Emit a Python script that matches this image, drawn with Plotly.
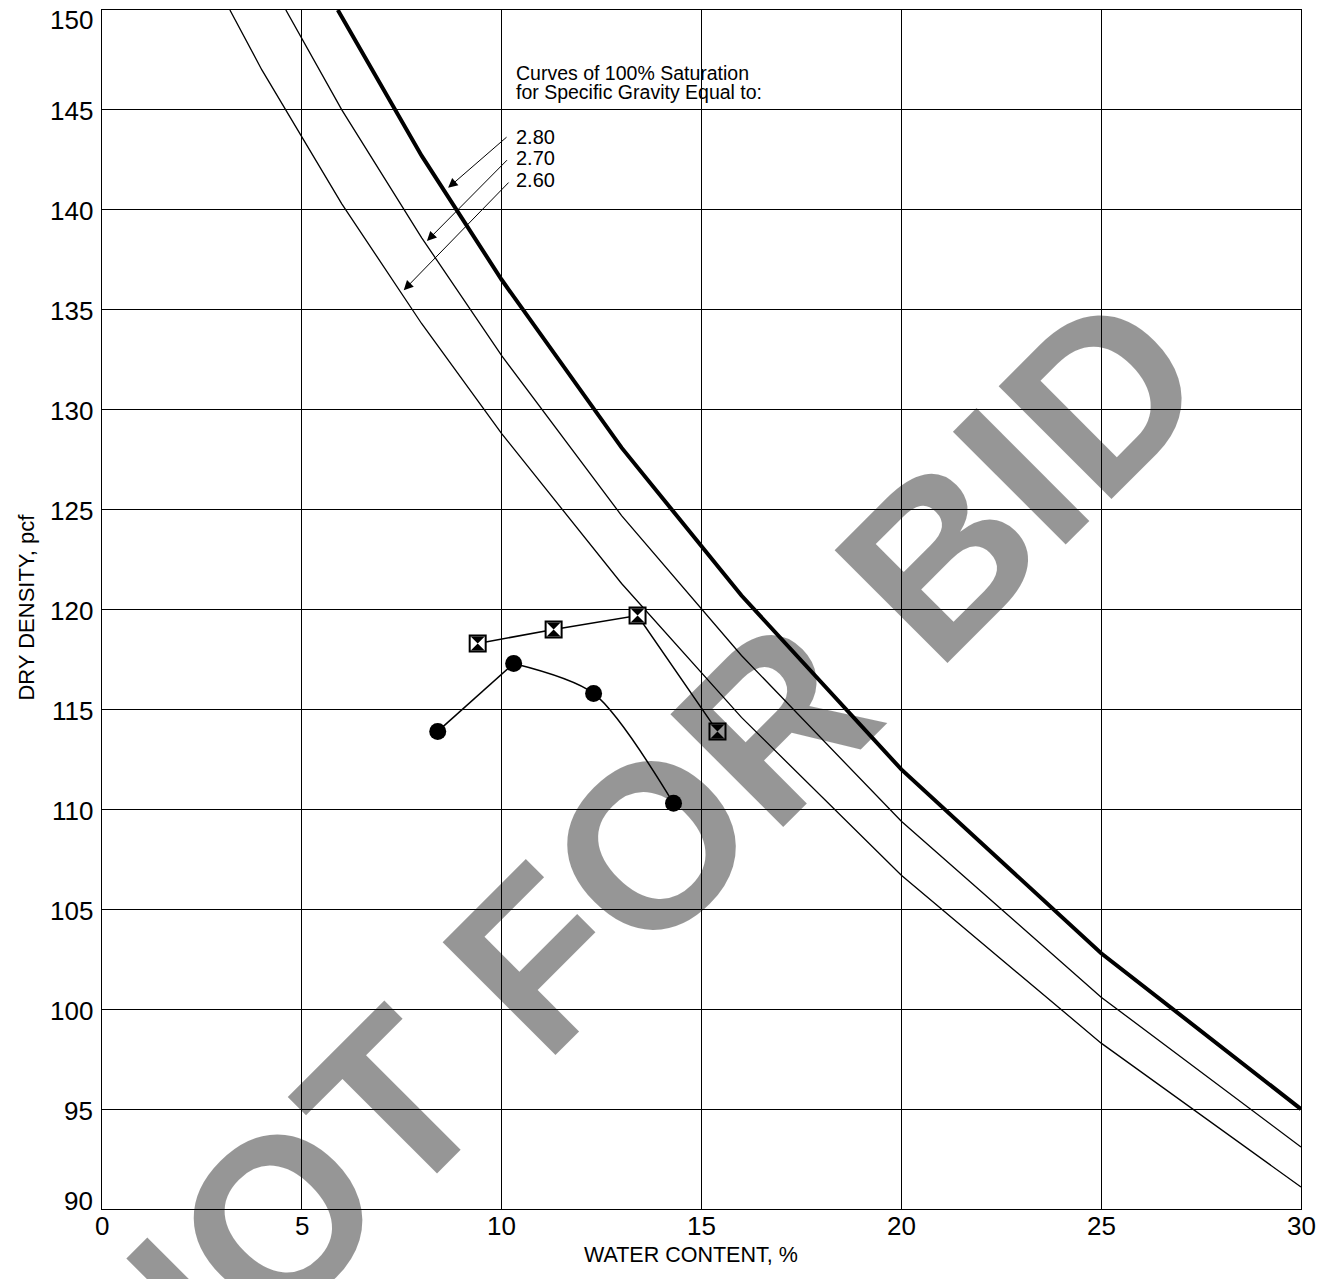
import plotly.graph_objects as go

# saturation curves
w_280 = [5.9, 8, 10, 13, 16, 20, 25, 30]
d_280 = [150.0, 142.7, 136.5, 128.1, 120.7, 112.0, 102.8, 95.0]
w_270 = [4.6, 6, 8, 10, 13, 16, 20, 25, 30]
d_270 = [150.0, 145.0, 138.6, 132.7, 124.7, 117.7, 109.4, 100.6, 93.1]
w_260 = [3.2, 4, 6, 8, 10, 13, 16, 20, 25, 30]
d_260 = [150.0, 147.0, 140.3, 134.3, 128.8, 121.3, 114.6, 106.7, 98.3, 91.1]

# compaction tests
circ_w = [8.4, 10.3, 12.3, 14.3]
circ_d = [113.9, 117.3, 115.8, 110.3]
sq_w = [9.4, 11.3, 13.4, 15.4]
sq_d = [118.3, 119.0, 119.7, 113.9]

gs_labels = ["2.80", "2.70", "2.60"]
label_y = [143.64, 142.58, 141.48]
arrow_tail = [(10.16, 143.7), (10.17, 142.56), (10.21, 141.44)]
arrow_head = [(8.66, 141.1), (8.13, 138.44), (7.55, 135.98)]

x_ticks = [0, 5, 10, 15, 20, 25, 30]
y_ticks = [90, 95, 100, 105, 110, 115, 120, 125, 130, 135, 140, 145, 150]

FONT = "Liberation Sans, Arial, sans-serif"

# page body adds an 8px offset; size the figure so the plot lands where the original is
OFF = 8
W, H = 1323, 1271
ml, mr, mt, mb = 93.5, 29.5, 1.5, 69.5
PW, PH = W - ml - mr, H - mt - mb


def px_to_paper(px, py):
    return (px - OFF - ml) / PW, 1 - (py - OFF - mt) / PH


fig = go.Figure()

fig.add_trace(go.Scatter(x=w_260, y=d_260, mode="lines", line=dict(color="black", width=1.3)))
fig.add_trace(go.Scatter(x=w_270, y=d_270, mode="lines", line=dict(color="black", width=1.3)))
fig.add_trace(go.Scatter(x=w_280, y=d_280, mode="lines", line=dict(color="black", width=4)))

# circles: straight first leg, then a smooth curve
fig.add_trace(go.Scatter(x=circ_w[:2], y=circ_d[:2], mode="lines", line=dict(color="black", width=1.5)))
fig.add_trace(go.Scatter(x=circ_w[1:], y=circ_d[1:], mode="lines",
                         line=dict(color="black", width=1.5, shape="spline", smoothing=0.8)))
fig.add_trace(go.Scatter(x=circ_w, y=circ_d, mode="markers",
                         marker=dict(symbol="circle", size=17, color="black")))

# squares with hourglass fill
fig.add_trace(go.Scatter(x=sq_w, y=sq_d, mode="lines", line=dict(color="black", width=1.5)))
fig.add_trace(go.Scatter(x=sq_w, y=sq_d, mode="markers",
                         marker=dict(symbol="square", size=16, color="white",
                                     line=dict(color="black", width=2))))
fig.add_trace(go.Scatter(x=sq_w, y=sq_d, mode="markers",
                         marker=dict(symbol="hourglass", size=14, color="black",
                                     line=dict(width=0))))

annotations = []

# watermark first so the other texts sit on top
annotations.append(dict(x=13.19, y=107.08, text="<b>NOT FOR BID</b>", showarrow=False,
                        textangle=-45, font=dict(size=232, color="rgba(0,0,0,0.41)")))

annotations.append(dict(x=10.31, y=146.83, text="Curves of 100% Saturation", showarrow=False,
                        xanchor="left", yanchor="middle", font=dict(size=19.5)))
annotations.append(dict(x=10.31, y=145.88, text="for Specific Gravity Equal to:", showarrow=False,
                        xanchor="left", yanchor="middle", font=dict(size=19.5)))
for lab, ly in zip(gs_labels, label_y):
    annotations.append(dict(x=10.31, y=ly, text=lab, showarrow=False,
                            xanchor="left", yanchor="middle", font=dict(size=20)))
for (tx, ty), (hx, hy) in zip(arrow_tail, arrow_head):
    annotations.append(dict(x=hx, y=hy, ax=tx, ay=ty, axref="x", ayref="y", text="",
                            showarrow=True, arrowhead=2, arrowsize=1.9, arrowwidth=1,
                            arrowcolor="black", standoff=0))

# tick labels
for v in x_ticks:
    annotations.append(dict(x=v, y=90, text=str(v), showarrow=False, xanchor="center",
                            yanchor="middle", yshift=-17, font=dict(size=26)))
for v in y_ticks:
    shift = -1.5
    if v == max(y_ticks):
        shift = -10
    elif v == min(y_ticks):
        shift = 8.5
    annotations.append(dict(x=0, y=v, text=str(v), showarrow=False, xanchor="right",
                            yanchor="middle", xshift=-7, yshift=shift, font=dict(size=26)))

# axis titles
tx, ty = px_to_paper(691, 1256)
annotations.append(dict(x=tx, y=ty, xref="paper", yref="paper", text="WATER CONTENT, %",
                        showarrow=False, xanchor="center", yanchor="middle", font=dict(size=21.5)))
tx, ty = px_to_paper(25, 607)
annotations.append(dict(x=tx, y=ty, xref="paper", yref="paper", text="DRY DENSITY, pcf",
                        showarrow=False, xanchor="center", yanchor="middle", textangle=-90,
                        font=dict(size=22)))

fig.update_layout(
    width=W, height=H,
    margin=dict(l=ml, r=mr, t=mt, b=mb, pad=0),
    plot_bgcolor="white", paper_bgcolor="white",
    showlegend=False,
    font=dict(family=FONT, color="black"),
    annotations=annotations,
)
fig.update_xaxes(range=[0, 30], tickvals=x_ticks, showgrid=True, gridcolor="black", gridwidth=1,
                 showline=True, linecolor="black", linewidth=1, mirror=True, zeroline=False,
                 ticks="", showticklabels=False)
fig.update_yaxes(range=[90, 150], tickvals=y_ticks, showgrid=True, gridcolor="black", gridwidth=1,
                 showline=True, linecolor="black", linewidth=1, mirror=True, zeroline=False,
                 ticks="", showticklabels=False)

fig.write_html("out.html")
